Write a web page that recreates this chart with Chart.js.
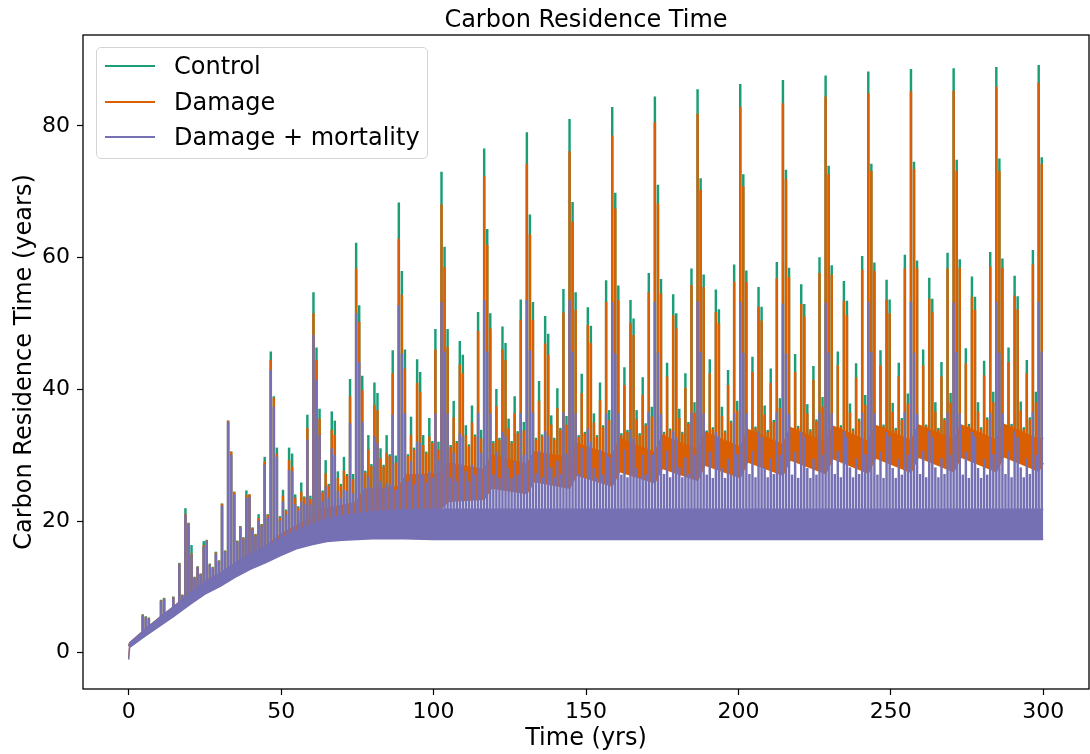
<!DOCTYPE html>
<html>
<head>
<meta charset="utf-8">
<title>Carbon Residence Time</title>
<script src="https://cdn.jsdelivr.net/npm/chart.js@4.4.1/dist/chart.umd.min.js"></script>
<style>
    html, body { margin: 0; padding: 0; background: #fff; }
    #wrap { position: relative; width: 1090px; height: 754px; font-family: 'DejaVu Sans', sans-serif; color: #000; }
    #chart { position: absolute; left: 0; top: 0; }
    #title { position: absolute; left: 83px; width: 1006px; top: 5px; line-height: 28px; text-align: center; font-size: 24px; }
    #legend { position: absolute; left: 96px; top: 47px; width: 332px; height: 112px; box-sizing: border-box;
              border: 1px solid #d4d4d4; border-radius: 5px; background: rgba(255, 255, 255, 0.8); }
    .item { position: absolute; left: 0; height: 28px; line-height: 28px; font-size: 24px; white-space: nowrap; }
    .swatch { position: absolute; left: 8px; top: 13px; width: 50px; height: 2px; }
    .label { position: absolute; left: 77px; top: 0; }
</style>
</head>
<body>
<div id="wrap">
    <canvas id="chart" width="1090" height="754"></canvas>
    <div id="title">Carbon Residence Time</div>
    <div id="legend"></div>
</div>
<script>
/**
 * Carbon residence time, three model runs.
 * Spikes come every year, with a bigger cluster every 14 years.
 */

const SERIES = ['Control', 'Damage', 'Damage + mortality'];
const COLORS = ['#1b9e77', '#d95f02', '#7570b3'];

const xTicks = [0, 50, 100, 150, 200, 250, 300];
const yTicks = [0, 20, 40, 60, 80];

// start of each 14-year cluster and the yearly spikes inside it (yrs)
const cycleStarts = [4.6, 18.6, 32.6, 46.6, 60.6, 74.6, 88.6, 102.6, 116.6, 130.6, 144.6,
    158.6, 172.6, 186.6, 200.6, 214.6, 228.6, 242.6, 256.6, 270.6, 284.6, 298.5];
const spikeOffsets = [0, 1, 2, 3, 4, 5, 6, 7, 8, 9, 10, 11, 12, 13];

// spike tops, one row per cluster
const controlPeaks = [
    [5.8, 5.5, 5.3, 3.8, 4.0, 4.6, 8.0, 8.3, 6.0, 6.3, 8.5, 7.0, 13.6, 8.8],
    [21.9, 19.7, 16.3, 11.5, 13.1, 12.0, 16.9, 17.1, 13.5, 13.0, 15.3, 14.0, 22.6, 15.5],
    [35.2, 30.5, 24.4, 17.0, 19.2, 17.5, 24.6, 24.0, 19.0, 18.0, 21.0, 19.5, 29.7, 21.0],
    [45.7, 38.9, 31.1, 20.7, 24.7, 21.7, 31.1, 30.2, 24.0, 22.2, 25.8, 23.7, 36.1, 23.8],
    [54.7, 46.3, 37.0, 24.6, 29.2, 25.6, 36.6, 35.2, 27.5, 25.6, 29.7, 27.1, 41.5, 27.1],
    [62.2, 52.7, 42.0, 27.6, 33.0, 28.6, 41.0, 39.4, 31.0, 28.5, 33.0, 30.1, 45.9, 29.9],
    [68.3, 57.9, 46.0, 30.1, 35.8, 31.1, 44.5, 42.6, 33.0, 30.5, 35.6, 32.1, 49.1, 32.0],
    [73.0, 61.6, 49.1, 31.5, 38.2, 32.1, 47.3, 45.2, 34.5, 31.6, 37.5, 33.1, 51.7, 33.8],
    [76.5, 64.3, 51.5, 32.1, 40.0, 32.6, 49.5, 47.0, 35.5, 32.1, 38.9, 33.6, 53.6, 35.0],
    [79.0, 66.5, 53.2, 32.6, 41.2, 33.1, 51.1, 48.4, 36.0, 32.6, 40.1, 34.1, 55.2, 35.9],
    [81.0, 68.4, 54.7, 33.0, 42.3, 33.5, 52.4, 49.6, 36.3, 33.0, 41.0, 34.5, 56.5, 36.8],
    [82.8, 69.8, 55.7, 33.3, 43.3, 33.8, 53.5, 50.7, 36.8, 33.3, 41.8, 34.8, 57.6, 37.3],
    [84.4, 71.0, 56.7, 33.5, 44.0, 34.0, 54.4, 51.5, 37.0, 33.5, 42.4, 35.0, 58.3, 38.0],
    [85.5, 72.0, 57.4, 33.7, 44.5, 34.2, 55.1, 52.1, 37.3, 33.7, 42.9, 35.2, 58.9, 38.2],
    [86.3, 72.6, 58.0, 33.8, 44.9, 34.3, 55.5, 52.5, 37.5, 33.8, 43.1, 35.3, 59.3, 38.6],
    [86.9, 73.3, 58.4, 33.9, 45.3, 34.4, 55.9, 52.9, 37.7, 33.9, 43.5, 35.4, 60.0, 38.8],
    [87.6, 73.9, 58.8, 34.0, 45.7, 34.5, 56.4, 53.4, 37.8, 34.0, 43.9, 35.5, 60.2, 39.1],
    [88.2, 74.2, 59.2, 34.1, 45.9, 34.6, 56.6, 53.6, 37.9, 34.1, 44.0, 35.6, 60.4, 39.3],
    [88.6, 74.5, 59.5, 34.2, 46.0, 34.6, 56.9, 53.7, 38.0, 34.1, 44.1, 35.6, 60.7, 39.4],
    [88.7, 74.8, 59.7, 34.2, 46.2, 34.7, 57.1, 54.0, 38.0, 34.2, 44.3, 35.7, 60.8, 39.6],
    [88.9, 75.0, 59.8, 34.3, 46.3, 34.7, 57.2, 54.1, 38.1, 34.2, 44.4, 35.7, 61.1, 39.6],
    [89.2, 75.2]
];
const damagePeaks = [
    [5.7, 5.4, 5.2, 3.7, 3.9, 4.5, 7.9, 8.2, 5.9, 6.2, 8.4, 6.9, 13.5, 8.7],
    [21.0, 19.6, 15.0, 11.4, 13.0, 11.9, 16.3, 17.0, 13.4, 12.9, 15.2, 13.9, 22.6, 15.4],
    [35.2, 30.5, 24.4, 16.9, 19.1, 17.4, 23.9, 24.0, 18.9, 17.9, 20.4, 19.4, 29.0, 20.9],
    [44.4, 38.7, 30.2, 20.5, 23.8, 21.5, 29.2, 28.2, 23.5, 22.0, 24.4, 23.5, 34.1, 23.3],
    [51.5, 44.4, 35.5, 24.3, 27.2, 25.3, 33.8, 33.0, 26.5, 25.3, 27.6, 26.8, 38.9, 26.3],
    [58.3, 50.2, 39.8, 27.3, 30.8, 28.3, 37.6, 36.8, 29.5, 28.2, 30.3, 29.8, 42.4, 28.8],
    [62.8, 54.3, 43.1, 29.8, 33.0, 30.8, 40.9, 39.6, 31.5, 30.2, 32.8, 31.8, 46.0, 30.8],
    [68.0, 58.5, 46.4, 31.2, 35.7, 31.8, 43.7, 42.4, 33.0, 31.3, 34.9, 32.8, 48.8, 32.5],
    [72.3, 61.9, 49.2, 31.8, 37.4, 32.3, 46.0, 44.4, 34.0, 31.8, 36.3, 33.3, 50.5, 33.7],
    [74.2, 63.5, 50.5, 32.3, 38.2, 32.8, 46.9, 45.2, 34.6, 32.3, 37.1, 33.8, 51.6, 34.6],
    [76.1, 65.4, 52.0, 32.7, 39.4, 33.2, 49.7, 47.0, 34.9, 32.7, 38.3, 34.2, 53.2, 35.3],
    [78.5, 67.4, 53.5, 33.0, 40.6, 33.5, 50.0, 48.2, 35.4, 33.0, 39.1, 34.5, 54.7, 35.8],
    [80.5, 68.2, 54.5, 33.2, 41.9, 33.7, 51.2, 49.2, 35.6, 33.2, 40.2, 34.7, 55.8, 36.4],
    [81.8, 70.2, 55.5, 33.4, 42.4, 33.9, 51.7, 50.0, 35.9, 33.4, 40.6, 34.9, 56.3, 36.7],
    [82.8, 70.8, 56.3, 33.5, 42.6, 34.0, 52.5, 50.4, 36.1, 33.5, 40.9, 35.0, 56.8, 37.1],
    [83.4, 71.9, 57.0, 33.6, 42.6, 34.1, 52.9, 51.0, 36.3, 33.6, 41.4, 35.1, 57.6, 37.3],
    [84.4, 72.6, 57.4, 33.7, 43.6, 34.2, 53.4, 51.2, 36.4, 33.7, 41.7, 35.2, 58.1, 37.6],
    [84.9, 73.1, 57.9, 33.8, 43.6, 34.3, 53.6, 51.5, 36.5, 33.8, 41.9, 35.3, 58.3, 37.8],
    [85.2, 73.4, 58.3, 33.9, 43.6, 34.3, 53.7, 51.6, 36.6, 33.8, 41.9, 35.3, 58.3, 37.9],
    [85.3, 73.1, 58.4, 33.9, 43.9, 34.4, 54.0, 52.0, 36.6, 33.9, 42.1, 35.4, 58.6, 38.0],
    [85.9, 73.1, 58.4, 34.0, 44.1, 34.4, 54.2, 52.1, 36.7, 33.9, 42.4, 35.4, 58.9, 38.0],
    [86.5, 74.2]
];
const mortalityPeaks = [
    [5.6, 5.3, 5.1, 3.6, 3.8, 4.4, 7.8, 8.1, 5.8, 6.1, 8.3, 6.8, 13.4, 8.6],
    [20.9, 19.5, 14.8, 11.3, 12.9, 11.8, 16.1, 16.9, 13.3, 12.8, 15.0, 13.8, 22.3, 15.3],
    [35.0, 30.0, 24.0, 16.8, 19.0, 17.2, 23.5, 23.6, 18.7, 17.7, 20.0, 19.2, 28.5, 20.5],
    [42.9, 37.3, 29.7, 20.0, 22.9, 21.0, 27.7, 27.5, 22.5, 21.5, 22.9, 22.5, 32.3, 22.4],
    [48.2, 41.4, 33.0, 23.0, 25.2, 23.5, 31.0, 30.0, 24.5, 23.5, 24.7, 24.5, 34.8, 24.2],
    [51.5, 44.1, 35.0, 25.0, 26.7, 25.0, 32.8, 31.8, 26.0, 25.0, 25.7, 25.5, 36.1, 24.7],
    [52.7, 45.4, 36.3, 26.0, 29.0, 25.5, 32.0, 31.8, 27.0, 25.8, 27.5, 26.5, 36.3, 29.2],
    [53.2, 45.7, 36.3, 26.5, 30.3, 26.0, 33.3, 32.8, 27.5, 26.0, 28.5, 27.0, 36.4, 30.3],
    [53.5, 45.7, 36.3, 27.0, 30.5, 26.5, 33.5, 32.8, 28.0, 26.5, 29.0, 27.0, 36.4, 30.0],
    [53.5, 45.9, 36.4, 27.2, 30.6, 26.6, 33.6, 32.9, 28.1, 26.6, 29.1, 27.1, 36.5, 30.1],
    [53.5, 45.7, 36.3, 27.1, 31.0, 26.5, 34.0, 32.0, 28.0, 26.5, 30.8, 27.0, 36.3, 29.7],
    [53.2, 45.4, 36.3, 27.0, 30.8, 26.6, 33.8, 32.5, 28.0, 26.6, 30.0, 27.0, 36.5, 30.0],
    [53.2, 45.5, 36.2, 27.1, 30.6, 26.6, 33.6, 32.7, 28.1, 26.6, 29.6, 27.1, 36.4, 30.0],
    [53.3, 45.6, 36.3, 27.0, 30.5, 26.5, 33.5, 32.8, 28.0, 26.5, 29.4, 27.0, 36.4, 30.1],
    [53.2, 45.5, 36.3, 27.1, 30.6, 26.6, 33.6, 32.7, 28.1, 26.6, 29.5, 27.1, 36.5, 30.0],
    [53.0, 45.4, 36.2, 27.0, 30.5, 26.5, 33.5, 32.8, 28.0, 26.5, 29.4, 27.0, 36.4, 30.0],
    [53.1, 45.5, 36.3, 27.1, 30.6, 26.6, 33.6, 32.7, 28.1, 26.6, 29.5, 27.1, 36.4, 30.1],
    [53.2, 45.6, 36.3, 27.0, 30.5, 26.5, 33.5, 32.8, 28.0, 26.5, 29.4, 27.0, 36.5, 30.0],
    [53.2, 45.5, 36.2, 27.1, 30.6, 26.6, 33.6, 32.7, 28.1, 26.6, 29.5, 27.1, 36.4, 30.0],
    [53.1, 45.6, 36.3, 27.0, 30.5, 26.5, 33.5, 32.8, 28.0, 26.5, 29.4, 27.0, 36.4, 30.1],
    [53.2, 45.5, 36.3, 27.1, 30.6, 26.6, 33.6, 32.7, 28.1, 26.6, 29.5, 27.1, 36.5, 30.0],
    [53.2, 45.7]
];

// the dense sub-yearly wiggle between spikes, as low / high edges
const damageBandTimes = [0, 0.3, 5, 10, 15, 20, 25, 30, 35, 40, 45, 50, 55, 60.6, 63,
    74.6, 77, 88.6, 91, 102.6, 105, 116.6, 119, 130.6, 133, 144.6, 147, 158.6, 161,
    172.6, 175, 186.6, 189, 200.6, 203, 214.6, 217, 228.6, 231, 242.6, 245, 256.6, 259,
    270.6, 273, 284.6, 287, 298.5, 300];
const damageBandLow = [-1.0, 0.8, 2.4, 4.0, 5.6, 7.3, 8.9, 10.1, 11.5, 12.7, 13.7, 14.8, 15.8, 17.0, 18.0,
    18.3, 19.8, 20.0, 21.5, 22.0, 23.0, 23.3, 25.0, 24.2, 26.0, 25.0, 27.0, 25.3, 27.5,
    25.8, 28.0, 26.2, 28.5, 26.6, 29.0, 27.0, 29.3, 27.2, 29.5, 27.3, 29.6, 27.4, 29.7,
    27.5, 29.7, 27.5, 29.8, 27.6, 28.8];
const damageBandHigh = [1.0, 1.5, 3.4, 5.3, 7.1, 9.0, 10.8, 12.1, 13.6, 15.0, 16.2, 18.0, 19.3, 20.5, 21.8,
    22.8, 24.7, 25.2, 27.0, 27.2, 28.8, 27.8, 30.0, 28.6, 30.5, 29.6, 31.8, 30.0, 32.5,
    30.4, 33.0, 30.8, 33.5, 31.2, 33.9, 31.6, 34.2, 31.9, 34.4, 32.1, 34.5, 32.2, 34.6,
    32.3, 34.6, 32.3, 34.7, 32.4, 32.6];

const mortalityBandTimes = [0, 0.3, 5, 10, 15, 20, 25, 30, 35, 40, 45, 50, 55, 60, 65, 70,
    80, 90, 100, 150, 200, 250, 300];
const mortalityBandLow = [-1.0, 0.8, 2.4, 4.0, 5.6, 7.3, 8.9, 10.1, 11.5, 12.7, 13.7, 14.8, 15.8,
    16.4, 16.9, 17.1, 17.3, 17.3, 17.2, 17.2, 17.2, 17.2, 17.2];
const mortalityBandHigh = [1.0, 1.5, 3.4, 5.3, 7.1, 9.0, 10.8, 12.1, 13.6, 15.0, 16.2, 17.4, 18.5,
    19.5, 20.3, 20.8, 21.4, 21.7, 21.8, 21.8, 21.8, 21.8, 21.8];

/**
 * Turn a table of spike tops into {x, y} points
 */
function spikePoints(peaks) {
    const pts = [];
    peaks.forEach((row, i) => {
        row.forEach((v, j) => {
            pts.push({ x: cycleStarts[i] + spikeOffsets[j], y: v });
        });
    });
    return pts;
}

function bandPoints(times, values) {
    return times.map((t, i) => ({ x: t, y: values[i] }));
}

function spikeSet(label, peaks, color, order) {
    return {
        type: 'bar',
        label: label,
        data: spikePoints(peaks),
        backgroundColor: color,
        borderWidth: 0,
        barThickness: 1.8,
        grouped: false,
        order: order
    };
}

function edgeSet(label, times, values, color, fill, fillColor, order) {
    return {
        type: 'line',
        label: label,
        data: bandPoints(times, values),
        borderColor: color,
        borderWidth: 1.5,
        backgroundColor: fillColor,
        fill: fill,
        pointRadius: 0,
        tension: 0,
        order: order
    };
}

// drawing order: higher "order" is painted first
const datasets = [
    spikeSet('Control', controlPeaks, COLORS[0], 9),
    spikeSet('Damage', damagePeaks, COLORS[1], 8),
    edgeSet('Damage high', damageBandTimes, damageBandHigh, COLORS[1], 3, COLORS[1], 7),
    edgeSet('Damage low', damageBandTimes, damageBandLow, COLORS[1], 'start', '#ffffff', 6),
    spikeSet('Damage + mortality', mortalityPeaks, COLORS[2], 5),
    edgeSet('Mortality high', mortalityBandTimes, mortalityBandHigh, COLORS[2], 6, COLORS[2], 4),
    edgeSet('Mortality low', mortalityBandTimes, mortalityBandLow, COLORS[2], 'start', '#ffffff', 3)
];

const framePlugin = {
    id: 'frame',
    afterDatasetsDraw(chart) {
        const { ctx, chartArea: a } = chart;
        ctx.save();
        ctx.strokeStyle = '#000';
        ctx.lineWidth = 1.3;
        ctx.strokeRect(a.left, a.top, a.right - a.left, a.bottom - a.top);
        ctx.restore();
    }
};

const tickFont = { family: "'DejaVu Sans', sans-serif", size: 22 };
const titleFont = { family: "'DejaVu Sans', sans-serif", size: 24 };

new Chart(document.getElementById('chart'), {
    type: 'line',
    data: { datasets: datasets },
    options: {
        responsive: false,
        animation: false,
        events: [],
        layout: { padding: { top: 35, right: 1, left: 0, bottom: 0 } },
        plugins: {
            legend: { display: false },
            tooltip: { enabled: false },
            title: { display: false }
        },
        scales: {
            x: {
                type: 'linear',
                min: -15,
                max: 315,
                offset: false,
                grid: { offset: false, drawOnChartArea: false, drawTicks: true, tickLength: 6, tickColor: '#000', tickWidth: 1.2 },
                border: { display: false },
                ticks: { color: '#000', font: tickFont, padding: 4, maxRotation: 0 },
                afterBuildTicks: scale => { scale.ticks = xTicks.map(v => ({ value: v })); },
                afterFit: scale => { scale.height = 65; },
                title: { display: true, text: 'Time (yrs)', color: '#000', font: titleFont, padding: { top: 0, bottom: 1 } }
            },
            y: {
                min: -5.5,
                max: 93.8,
                grid: { drawOnChartArea: false, drawTicks: true, tickLength: 6, tickColor: '#000', tickWidth: 1.2 },
                border: { display: false },
                ticks: { color: '#000', font: tickFont, padding: 7 },
                afterBuildTicks: scale => { scale.ticks = yTicks.map(v => ({ value: v })); },
                afterFit: scale => { scale.width = 83; },
                title: { display: true, text: 'Carbon Residence Time (years)', color: '#000', font: titleFont, padding: { top: 10, bottom: 0 } }
            }
        }
    },
    plugins: [framePlugin]
});

// legend box inside the plot, upper left
const legend = document.getElementById('legend');
SERIES.forEach((name, i) => {
    const item = document.createElement('div');
    item.className = 'item';
    item.style.top = (4 + i * 35.7) + 'px';
    item.innerHTML = `<span class="swatch" style="background:${COLORS[i]}"></span><span class="label">${name}</span>`;
    legend.appendChild(item);
});
</script>
</body>
</html>
